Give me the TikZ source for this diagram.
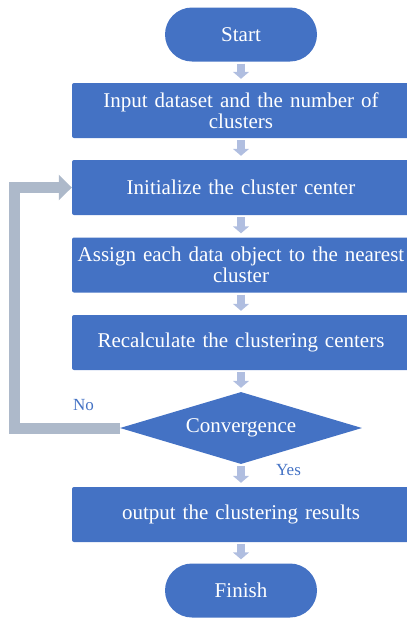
\documentclass[tikz,border=0pt]{standalone}
\usepackage{fontspec}
\setmainfont{Liberation Serif}
\usetikzlibrary{shapes.geometric, arrows.meta}
\definecolor{boxblue}{HTML}{4472C4}
\definecolor{steparrow}{HTML}{B0BEE0}
\definecolor{loopgray}{HTML}{ADB9CA}
\tikzstyle{block} = [rectangle, fill=boxblue, text=white, rounded corners=2pt, minimum width=338pt, minimum height=55pt, text width=330pt, align=center, inner sep=0pt, font=\fontsize{21}{20.5}\selectfont]
\tikzstyle{terminal} = [block, minimum width=152pt, minimum height=54pt, text width=140pt, rounded corners=27pt]
\tikzstyle{decision} = [diamond, fill=boxblue, text=white, aspect=3.3, minimum width=242pt, minimum height=72pt, inner sep=0pt, font=\fontsize{21}{20.5}\selectfont]
\tikzstyle{flow} = [draw=steparrow, line width=8pt, -{Triangle[width=16pt,length=7pt]}, shorten <=2pt, shorten >=4pt]
\tikzstyle{back} = [draw=loopgray, line width=11pt, -{Triangle[width=25pt,length=13pt]}, line join=miter]
\tikzstyle{answer} = [text=boxblue, inner sep=0pt, font=\fontsize{17}{17}\selectfont]

\begin{document}
\begin{tikzpicture}[x=1pt,y=-1pt]
\useasboundingbox (0,0) rectangle (407,619);
\node[terminal] (start) at (241,34.5) {Start};
\node[block] (input) at (241,110.5) {Input dataset and the number of\\clusters};
\node[block] (init) at (241,187.5) {Initialize the cluster center};
\node[block] (assign) at (241,265) {Assign each data object to the nearest\\cluster};
\node[block] (recalc) at (241,342.5) {Recalculate the clustering centers};
\node[decision] (conv) at (241,428) {Convergence};
\node[block] (output) at (241,514.5) {output the clustering results};
\node[terminal] (finish) at (241,590.5) {Finish};
% arrows down the chart
\foreach \a/\b in {start/input, input/init, init/assign, assign/recalc, recalc/conv, conv/output, output/finish}
	\draw[flow] (\a.south) -- (\b.north);
% loop back
\draw[back] (conv.west) -- ++(-105,0) |- (init.west);
\node[answer] (no) at (83.5,405) {No};
\node[answer] (yes) at (288.5,470.5) {Yes};
\end{tikzpicture}
\end{document}
